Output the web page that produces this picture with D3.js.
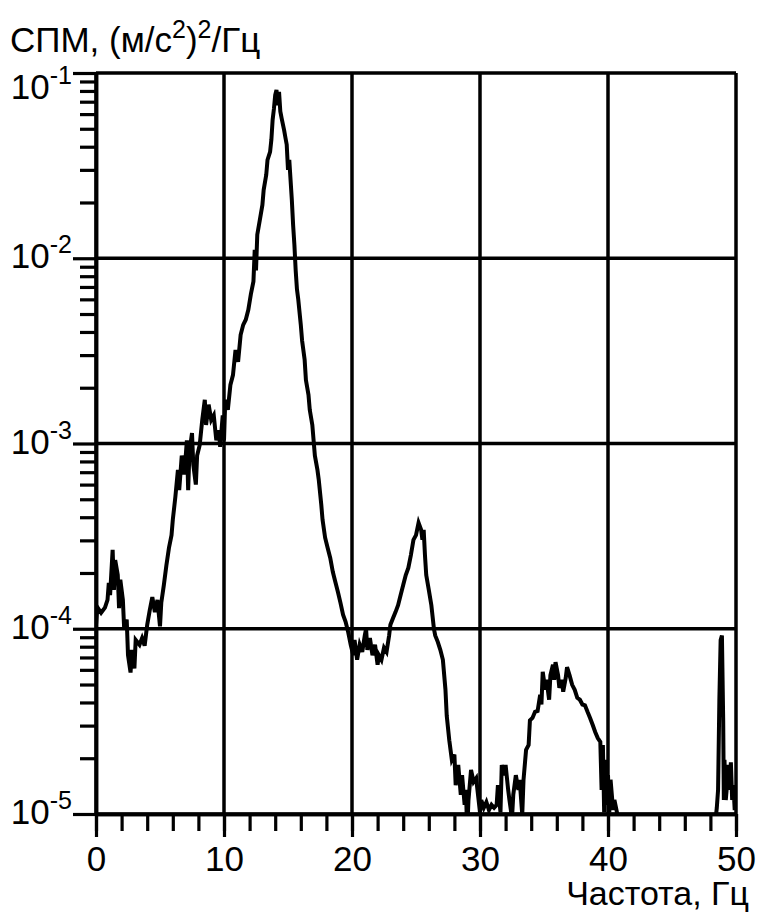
<!DOCTYPE html>
<html>
<head>
<meta charset="utf-8">
<script src="https://cdn.jsdelivr.net/npm/d3@7"></script>
<style>
body { margin: 0; background: #fff; }
text { font-family: "Liberation Sans", Arial, sans-serif; fill: #000; }
</style>
</head>
<body>
<div id="chart"></div>
<script>
// frequency, Hz
var freq = [
    0,0.1,0.4,0.7,0.9,1.0,1.1,1.3,1.4,1.5,1.7,1.8,1.9,2.1,2.2,2.4,
    2.5,2.7,2.8,3.0,3.1,3.4,3.6,3.8,4.0,4.2,4.4,4.6,4.8,5.0,
    5.1,5.3,5.5,5.7,5.9,6.0,6.2,6.4,6.5,6.7,6.9,7.1,7.2,7.3,7.5,
    7.6,7.8,7.9,8.1,8.3,8.5,8.6,8.8,9.0,9.2,9.4,9.6,9.7,9.9,10.0,
    10.1,10.3,10.5,10.7,10.9,11.1,11.3,11.5,11.7,11.9,12.1,12.3,12.4,12.5,
    12.6,12.8,13.0,13.1,13.3,13.4,13.6,13.7,13.8,13.9,14.0,14.1,14.2,14.3,14.4,14.5,14.7,14.8,14.9,15.0,
    15.1,15.3,15.4,15.5,15.6,15.7,15.8,16.0,16.1,16.3,16.4,16.6,16.7,16.9,17.0,
    17.1,17.3,17.4,17.6,17.7,17.9,18.1,18.3,18.5,18.7,18.9,19.1,19.3,19.5,19.7,19.9,
    20.1,20.2,20.4,20.6,20.8,21.0,21.1,21.2,21.4,21.6,21.8,22.0,22.1,22.3,22.5,22.7,22.9,23.0,
    23.2,23.4,23.6,23.8,24.0,24.2,24.4,24.6,24.8,25.0,25.2,25.4,25.5,25.6,25.7,25.8,26.0,26.2,
    26.4,26.5,26.7,26.9,27.1,27.3,27.4,27.6,27.8,28.0,28.1,28.3,28.5,28.6,28.8,28.9,29.0,
    29.1,29.3,29.5,29.7,29.8,30.0,30.1,30.3,30.5,30.7,30.9,31.1,31.3,31.4,31.6,
    31.7,31.9,32.0,32.2,32.3,32.5,32.6,32.8,33.0,33.1,33.3,33.4,33.6,33.8,33.9,34.1,34.3,34.5,
    34.7,34.8,34.9,35.1,35.2,35.4,35.5,35.7,35.8,35.9,36.1,36.2,36.4,36.5,36.7,36.8,37.0,37.2,37.4,
    37.6,37.8,38.0,38.2,38.4,38.6,38.8,39.0,39.2,39.4,39.5,39.6,39.7,39.8,39.9,40.0,40.1,40.2,40.4,40.5,40.7,40.9,
    42,44,46,48,48.3,48.5,48.6,48.7,48.8,48.9,49.0,49.05,49.1,49.2,49.3,49.4,49.5,49.6,49.7,49.8,49.9,50
];
// PSD, (m/s^2)^2/Hz
var psd = [
    1.05e-4,1.31e-4,1.22e-4,1.3e-4,1.43e-4,1.77e-4,1.52e-4,2.67e-4,1.62e-4,2.35e-4,1.95e-4,1.29e-4,1.84e-4,1.43e-4,1.0e-4,1.12e-4,
    7.2e-5,5.8e-5,7.7e-5,6.1e-5,8.7e-5,8.2e-5,8.9e-5,8.1e-5,1.05e-4,1.26e-4,1.48e-4,1.23e-4,1.43e-4,1.03e-4,
    1.38e-4,1.72e-4,2.2e-4,2.73e-4,3.2e-4,3.87e-4,5.15e-4,7.2e-4,5.6e-4,8.6e-4,6.8e-4,1.04e-3,5.6e-4,9.0e-4,1.14e-3,
    7.7e-4,6.0e-4,8.6e-4,9.8e-4,1.34e-3,1.72e-3,1.26e-3,1.62e-3,1.34e-3,1.42e-3,1.04e-3,1.18e-3,9.6e-4,1.42e-3,1.04e-3,
    1.72e-3,1.52e-3,2.07e-3,2.34e-3,3.2e-3,2.76e-3,3.86e-3,4.37e-3,4.66e-3,5.27e-3,6.4e-3,7.5e-3,1.11e-2,8.6e-3,
    1.34e-2,1.61e-2,1.94e-2,2.34e-2,2.82e-2,3.4e-2,3.75e-2,4.36e-2,5.6e-2,6.4e-2,7.6e-2,8.1e-2,6.7e-2,7.9e-2,6.2e-2,5.7e-2,4.9e-2,4.47e-2,4.1e-2,3.0e-2,
    3.4e-2,2.06e-2,1.51e-2,1.18e-2,8.6e-3,6.8e-3,6.0e-3,4.37e-3,3.6e-3,2.83e-3,2.2e-3,1.83e-3,1.52e-3,1.26e-3,1.04e-3,
    8.6e-4,7.2e-4,6.4e-4,4.67e-4,3.87e-4,3.1e-4,2.73e-4,2.41e-4,2.03e-4,1.79e-4,1.58e-4,1.38e-4,1.19e-4,1.09e-4,9.6e-5,8.2e-5,
    7.2e-5,8.7e-5,6.8e-5,8.2e-5,7.5e-5,9.2e-5,1.0e-4,7.7e-5,8.9e-5,7.2e-5,8.2e-5,6.4e-5,7.2e-5,6.8e-5,7.9e-5,7.5e-5,9.2e-5,1.05e-4,
    1.14e-4,1.23e-4,1.34e-4,1.52e-4,1.72e-4,1.95e-4,2.13e-4,2.5e-4,3.02e-4,3.2e-4,3.73e-4,3.42e-4,3.02e-4,3.42e-4,2.5e-4,1.95e-4,1.62e-4,1.34e-4,
    1.0e-4,9.2e-5,8.5e-5,7.7e-5,6.8e-5,4.7e-5,3.4e-5,2.5e-5,1.96e-5,2.09e-5,1.43e-5,1.84e-5,1.27e-5,1.62e-5,1.12e-5,1.35e-5,8e-6,
    1.19e-5,1.73e-5,1.49e-5,1.56e-5,1.35e-5,1.02e-5,1.19e-5,1.08e-5,1.16e-5,1.05e-5,1.12e-5,1.08e-5,1.12e-5,1.43e-5,1.02e-5,
    1.84e-5,1.62e-5,1.84e-5,1.35e-5,1.19e-5,9.5e-6,1.27e-5,1.62e-5,1.35e-5,1.53e-5,9.9e-6,1.53e-5,2.22e-5,2.36e-5,3.2e-5,3.3e-5,3.56e-5,3.6e-5,
    4.4e-5,3.9e-5,5.86e-5,4.68e-5,5.3e-5,4.14e-5,5.6e-5,6.4e-5,5.3e-5,6.6e-5,5.6e-5,4.8e-5,5.3e-5,4.57e-5,5.44e-5,6.2e-5,5.6e-5,4.98e-5,4.68e-5,
    4.24e-5,4.14e-5,3.9e-5,3.86e-5,3.56e-5,3.3e-5,3.03e-5,2.77e-5,2.57e-5,2.45e-5,1.35e-5,2.36e-5,1.02e-5,1.96e-5,1.12e-5,1.62e-5,1.02e-5,1.53e-5,1.05e-5,1.19e-5,1.02e-5,8.1e-6,
    6e-6,5e-6,5.5e-6,6e-6,8e-6,1.08e-5,1.35e-5,4.14e-5,8.7e-5,9.2e-5,3.2e-5,1.19e-5,1.96e-5,1.19e-5,1.43e-5,1.84e-5,1.35e-5,1.9e-5,1.19e-5,1.43e-5,1.05e-5,1.27e-5
];
var xTicks = [0, 10, 20, 30, 40, 50];
var yExps = [-1, -2, -3, -4, -5];

var margin = {top: 73, right: 44, bottom: 101, left: 96};
var width = 780 - margin.left - margin.right;
var height = 915 - margin.top - margin.bottom;

var data = freq.map(function(f, i) { return {f: f, v: psd[i]}; });

var svg = d3.select("#chart").append("svg").attr("width", 780).attr("height", 915);
var g = svg.append("g").attr("transform", "translate(" + margin.left + "," + margin.top + ")");

var x = d3.scaleLinear().domain([0, 50]).range([0, width]);
var y = d3.scaleLog().domain([1e-5, 1e-1]).range([height, 0]);

// grid
g.selectAll(".vgrid").data(xTicks).enter().append("line")
    .attr("x1", d => x(d)).attr("x2", d => x(d)).attr("y1", 0).attr("y2", height)
    .attr("stroke", "#000").attr("stroke-width", 3.5);
g.selectAll(".hgrid").data(yExps).enter().append("line")
    .attr("x1", 0).attr("x2", width).attr("y1", d => y(Math.pow(10, d))).attr("y2", d => y(Math.pow(10, d)))
    .attr("stroke", "#000").attr("stroke-width", 3.5);

// y ticks
var minor = [];
yExps.forEach(function(e) {
    if (e === -1) return;
    for (var k = 2; k <= 9; k++) minor.push(k * Math.pow(10, e));
});
var yMinor = g.append("g").call(d3.axisLeft(y).tickValues(minor).tickSize(16).tickSizeOuter(0).tickFormat(""));
var yMajor = g.append("g").call(d3.axisLeft(y).tickValues(yExps.map(e => Math.pow(10, e))).tickSize(23).tickSizeOuter(0).tickFormat(""));

// x ticks
var xMinor = g.append("g").attr("transform", "translate(0," + height + ")")
    .call(d3.axisBottom(x).tickValues(d3.range(0, 51, 2)).tickSize(17).tickSizeOuter(0).tickFormat(""));
var xMajor = g.append("g").attr("transform", "translate(0," + height + ")")
    .call(d3.axisBottom(x).tickValues(xTicks).tickSize(23).tickSizeOuter(0).tickPadding(9).tickFormat(d3.format("d")));

svg.selectAll(".domain").attr("stroke-width", 3.5);
svg.selectAll(".tick line").attr("stroke-width", 3.2);
xMajor.selectAll("text").style("font-size", "35px").attr("fill", "#000");

// y labels 10^n
yExps.forEach(function(e) {
    var t = g.append("text").attr("text-anchor", "end")
        .attr("x", -24).attr("y", y(Math.pow(10, e)) + (e === -1 ? 26 : 10))
        .style("font-size", "35px");
    t.append("tspan").text("10");
    t.append("tspan").attr("dy", -15).style("font-size", "25px").text(String(e));
});

// curve
g.append("clipPath").attr("id", "clip").append("rect")
    .attr("x", 0).attr("y", -5).attr("width", width).attr("height", height + 5);

var line = d3.line().x(d => x(d.f)).y(d => y(d.v));
g.append("path").datum(data).attr("clip-path", "url(#clip)")
    .attr("d", line).attr("fill", "none").attr("stroke", "#000")
    .attr("stroke-width", 4).attr("stroke-linejoin", "miter");

// titles
var title = svg.append("text").attr("x", 10).attr("y", 52).style("font-size", "35px");
title.append("tspan").text("СПМ, (м/с");
title.append("tspan").attr("dy", -14).style("font-size", "25px").text("2");
title.append("tspan").attr("dy", 14).text(")");
title.append("tspan").attr("dy", -14).style("font-size", "25px").text("2");
title.append("tspan").attr("dy", 14).text("/Гц");

svg.append("text").attr("text-anchor", "end").attr("x", 749).attr("y", 905)
    .style("font-size", "34px").text("Частота, Гц");
</script>
</body>
</html>
